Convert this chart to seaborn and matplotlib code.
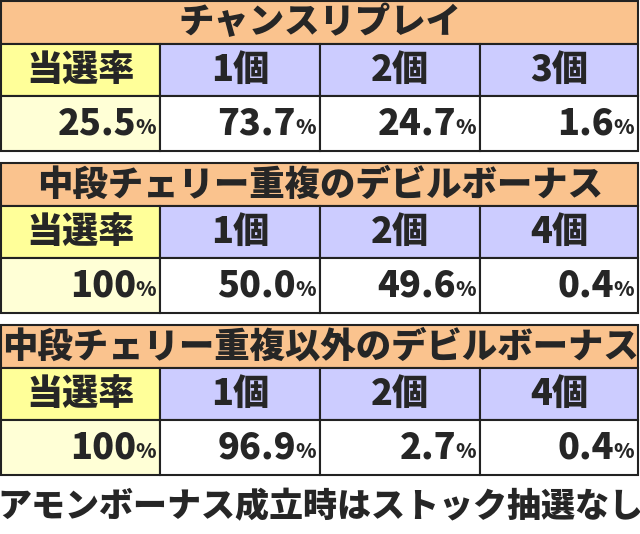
import matplotlib
matplotlib.use("Agg")
import matplotlib.pyplot as plt
import seaborn as sns
from matplotlib.patches import Rectangle

sns.set_theme(style="white")
FONT = "Noto Sans CJK JP"

titles = ["チャンスリプレイ", "中段チェリー重複のデビルボーナス", "中段チェリー重複以外のデビルボーナス"]
header_first = "当選率"
headers = [["1個", "2個", "3個"], ["1個", "2個", "4個"], ["1個", "2個", "4個"]]
rates = ["25.5", "100", "100"]
values = [["73.7", "24.7", "1.6"], ["50.0", "49.6", "0.4"], ["96.9", "2.7", "0.4"]]
footer = "アモンボーナス成立時はストック抽選なし"

W, H = 640, 534
fig = plt.figure(figsize=(W / 100, H / 100), dpi=100)
ax = fig.add_axes([0, 0, 1, 1])
ax.set_xlim(0, W)
ax.set_ylim(H, 0)
ax.axis("off")

tops = [1, 163, 325]
th, hh, vh = 43, 52, 55
cols = [1, 160, 320, 480, 638]
orange = "#FAC38E"
yellow = "#FFFF99"
lightyellow = "#FFFFD6"
lav = "#CCCCFF"
FW = "heavy"

def rect(x0, y0, x1, y1, c):
    ax.add_patch(Rectangle((x0, y0), x1 - x0, y1 - y0, facecolor=c, edgecolor="#222222", lw=1.5))

def pct(xr, yc, num):
    ax.text(xr - 24, yc, num, ha="right", va="center", fontsize=26, fontweight=FW, family=FONT)
    ax.text(xr - 4, yc + 4, "%", ha="right", va="center", fontsize=15, fontweight=FW, family=FONT)

for i, top in enumerate(tops):
    rect(cols[0], top, cols[-1], top + th, orange)
    ax.text(W / 2, top + th / 2, titles[i], ha="center", va="center", fontsize=25.5, fontweight=FW, family=FONT)
    y1 = top + th
    rect(cols[0], y1, cols[1], y1 + hh, yellow)
    ax.text((cols[0] + cols[1]) / 2, y1 + hh / 2, header_first, ha="center", va="center", fontsize=26, fontweight=FW, family=FONT)
    for j in range(3):
        rect(cols[j + 1], y1, cols[j + 2], y1 + hh, lav)
        ax.text((cols[j + 1] + cols[j + 2]) / 2, y1 + hh / 2, headers[i][j], ha="center", va="center", fontsize=26, fontweight=FW, family=FONT)
    y2 = y1 + hh
    rect(cols[0], y2, cols[1], y2 + vh, lightyellow)
    pct(cols[1], y2 + vh / 2, rates[i])
    for j in range(3):
        rect(cols[j + 1], y2, cols[j + 2], y2 + vh, "white")
        pct(cols[j + 2], y2 + vh / 2, values[i][j])

ax.text(W / 2, 507, footer, ha="center", va="center", fontsize=24.5, fontweight=FW, family=FONT)
fig.savefig("out.png", dpi=100)
